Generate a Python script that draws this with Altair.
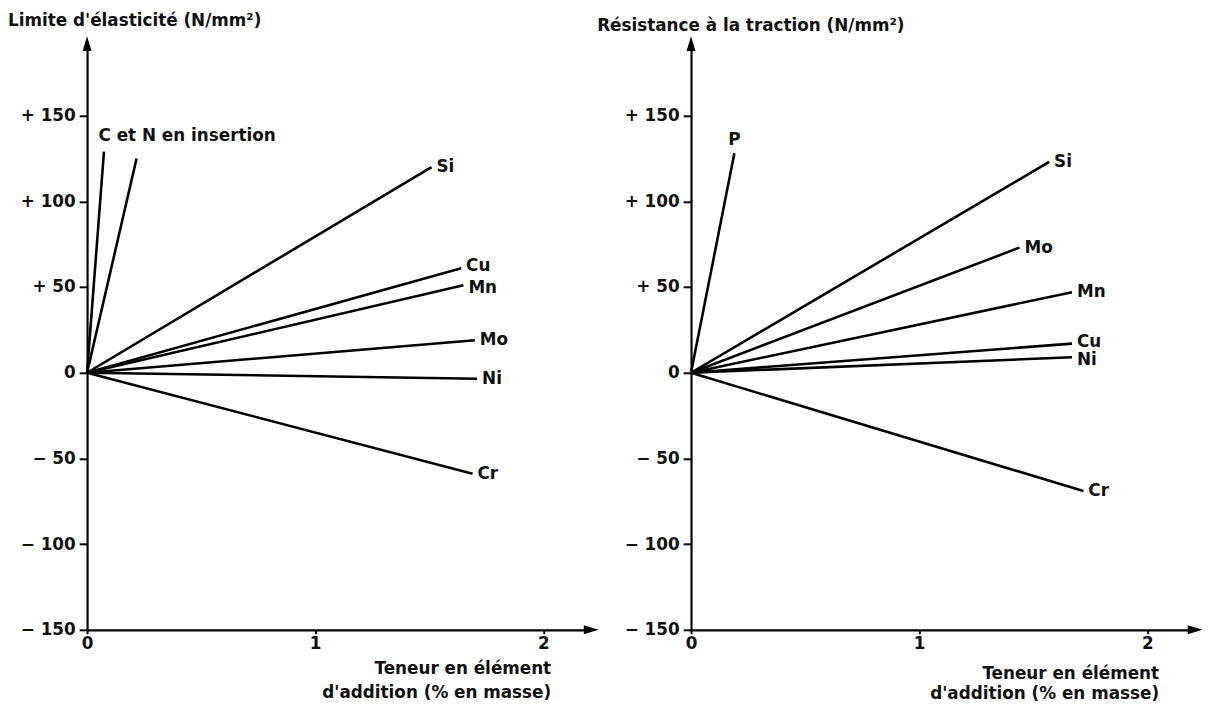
import altair as alt
import pandas as pd

# ---------------- data ----------------
# Left panel: Limite d'élasticité
left_elements = ["C", "N", "Si", "Cu", "Mn", "Mo", "Ni", "Cr"]
left_x_end = [0.074, 0.217, 1.51, 1.64, 1.65, 1.70, 1.71, 1.69]
left_y_end = [129, 125, 120, 61, 51, 19, -3.5, -59]
left_labels = ["", "", "Si", "Cu", "Mn", "Mo", "Ni", "Cr"]
left_label_pos = ["none", "none", "right", "right_up", "right_down", "right", "right", "right"]
left_note = ["C et N en insertion"]
left_note_x = [0.05]
left_note_y = [138]

# Right panel: Résistance à la traction
right_elements = ["P", "Si", "Mo", "Mn", "Cu", "Ni", "Cr"]
right_x_end = [0.19, 1.57, 1.44, 1.67, 1.67, 1.67, 1.72]
right_y_end = [128, 123, 73, 47, 17, 9, -69]
right_labels = ["P", "Si", "Mo", "Mn", "Cu", "Ni", "Cr"]
right_label_pos = ["top", "right", "right", "right", "right_up", "right_down", "right"]

y_ticks = [-150, -100, -50, 0, 50, 100, 150]
y_tick_labels = ["\u2212 150", "\u2212 100", "\u2212 50", "0", "+ 50", "+ 100", "+ 150"]
x_ticks = [0, 1, 2]
x_tick_labels = ["0", "1", "2"]
x_title = ["Teneur en élément", "d'addition (% en masse)"]
x_domain = [0, 2.21]
y_domain = [-150, 192]

FONT = "DejaVu Sans"
WEIGHT = "bold"
FS = 17
INK = "#111111"
ARROW_UP = "M0,-1L0.6,1L-0.6,1Z"
ARROW_RIGHT = "M1,0L-1,0.6L-1,-0.6Z"


def label_expr(values, labels):
    expr = "''"
    for v, l in reversed(list(zip(values, labels))):
        expr = f"datum.value == {v} ? '{l}' : ({expr})"
    return expr


def panel(elements, xe, ye, labels, positions, title, title_dx, title_dy,
          xt_x, xt_y, xt_lh, note=None):
    rows = []
    for e, x, y in zip(elements, xe, ye):
        rows.append({"element": e, "x": 0.0, "y": 0.0, "o": 0})
        rows.append({"element": e, "x": x, "y": y, "o": 1})
    lines_df = pd.DataFrame(rows)
    lab_df = pd.DataFrame({"x": xe, "y": ye, "label": labels, "pos": positions})

    xs = alt.Scale(domain=x_domain, nice=False, zero=False)
    ys = alt.Scale(domain=y_domain, nice=False, zero=False)
    xax = alt.Axis(values=x_ticks, labelExpr=label_expr(x_ticks, x_tick_labels),
                   title=x_title, titleAlign="right", titleBaseline="top",
                   titleX=xt_x, titleY=xt_y, titleLineHeight=xt_lh,
                   titleFont=FONT, titleFontSize=FS, titleFontWeight=WEIGHT,
                   titleColor=INK, tickSize=4, labelPadding=2, labelFlush=False,
                   labelOverlap=False)
    yax = alt.Axis(values=y_ticks, labelExpr=label_expr(y_ticks, y_tick_labels),
                   title=None, tickSize=8, labelPadding=4, labelFlush=False,
                   labelOverlap=False)

    X = alt.X("x:Q", scale=xs, axis=xax)
    Y = alt.Y("y:Q", scale=ys, axis=yax)

    lines = alt.Chart(lines_df).mark_line(color="black", strokeWidth=2.6).encode(
        x=X, y=Y, detail="element:N", order="o:Q")

    base_lab = alt.Chart(lab_df).encode(
        x=alt.X("x:Q", scale=xs), y=alt.Y("y:Q", scale=ys), text="label:N")
    txt = dict(font=FONT, fontSize=FS, fontWeight=WEIGHT, color=INK)
    lab_right = base_lab.transform_filter(alt.datum.pos == "right").mark_text(
        align="left", baseline="middle", dx=5, **txt)
    lab_up = base_lab.transform_filter(alt.datum.pos == "right_up").mark_text(
        align="left", baseline="middle", dx=5, dy=-2, **txt)
    lab_down = base_lab.transform_filter(alt.datum.pos == "right_down").mark_text(
        align="left", baseline="middle", dx=5, dy=3, **txt)
    lab_top = base_lab.transform_filter(alt.datum.pos == "top").mark_text(
        align="center", baseline="bottom", dy=-4, **txt)

    arrow_df = pd.DataFrame({"x": [0, x_domain[1]], "y": [y_domain[1], y_domain[0]],
                             "dir": ["up", "right"]})
    arr_base = alt.Chart(arrow_df).encode(x=alt.X("x:Q", scale=xs), y=alt.Y("y:Q", scale=ys))
    arr_up = arr_base.transform_filter(alt.datum.dir == "up").mark_point(
        shape=ARROW_UP, filled=True, color="black", size=225, opacity=1, strokeWidth=0)
    arr_right = arr_base.transform_filter(alt.datum.dir == "right").mark_point(
        shape=ARROW_RIGHT, filled=True, color="black", size=225, opacity=1, strokeWidth=0)

    layers = [lines, lab_right, lab_up, lab_down, lab_top, arr_up, arr_right]
    if note is not None:
        nt, nx, ny = note
        note_df = pd.DataFrame({"x": nx, "y": ny, "t": nt})
        layers.append(alt.Chart(note_df).mark_text(
            align="left", baseline="middle", **txt).encode(
            x=alt.X("x:Q", scale=xs), y=alt.Y("y:Q", scale=ys), text="t:N"))

    return alt.layer(*layers).properties(
        width=510, height=593,
        title=alt.TitleParams(title, anchor="start", frame="group", dx=title_dx,
                              dy=title_dy, offset=6, font=FONT, fontSize=FS,
                              fontWeight=WEIGHT, color=INK))


left = panel(left_elements, left_x_end, left_y_end, left_labels, left_label_pos,
             "Limite d'élasticité (N/mm²)", -80, 0, 469, 31, 24,
             note=(left_note, left_note_x, left_note_y))
right = panel(right_elements, right_x_end, right_y_end, right_labels, right_label_pos,
              "Résistance à la traction (N/mm²)", -95, 5, 473, 36, 20)

chart = alt.hconcat(left, right, spacing=101, bounds="flush").properties(
    padding={"left": 0, "top": 0, "right": 5, "bottom": 2},
    background="white",
).configure_axis(
    domainColor="black", domainWidth=2.2, tickColor="black", tickWidth=2,
    labelFont=FONT, labelFontSize=FS, labelFontWeight=WEIGHT, labelColor=INK, grid=False,
).configure_view(strokeWidth=0)

chart.save("out.html", embed_options={"renderer": "svg", "actions": False})
